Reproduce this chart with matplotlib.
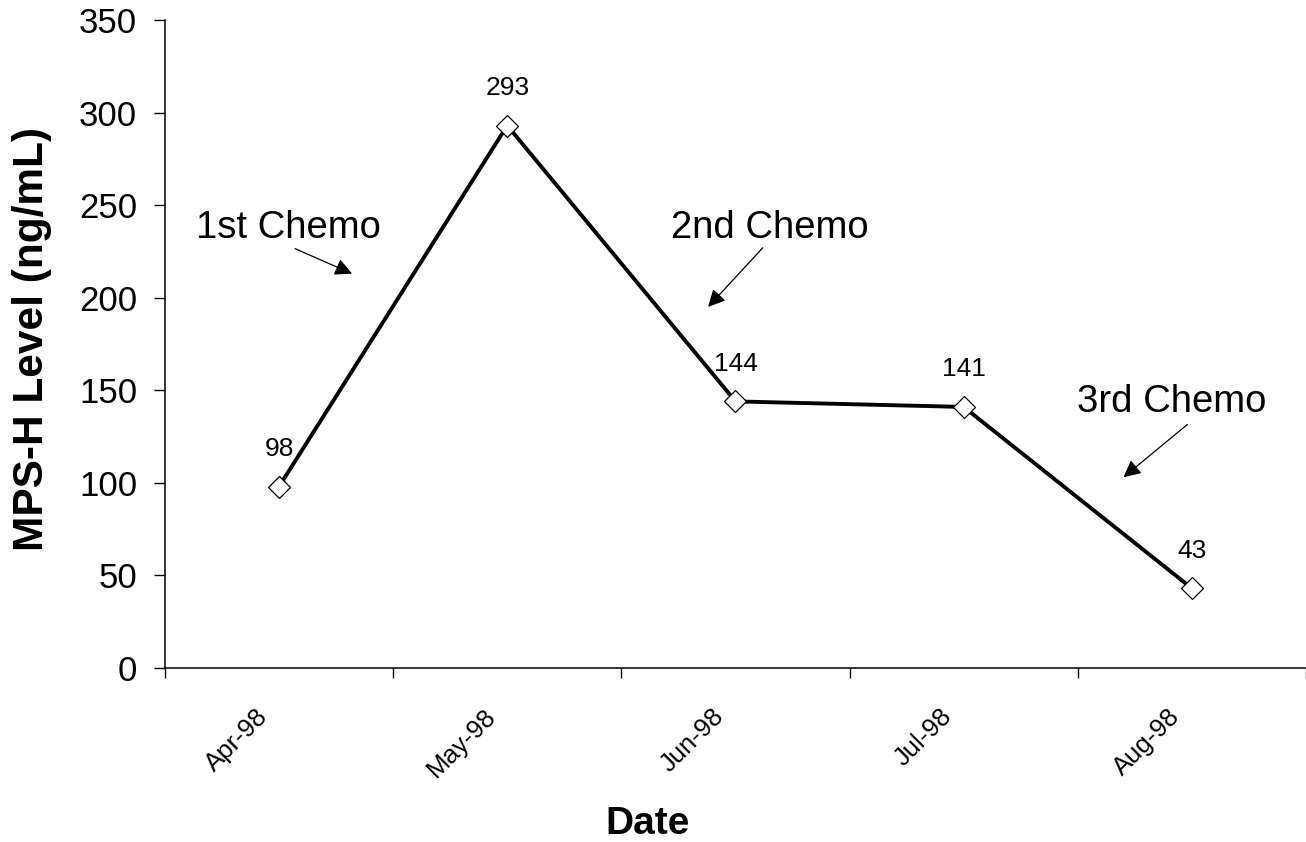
"""
MPS-H level over chemo cycles
"""

import matplotlib

matplotlib.use("Agg")
import matplotlib.pyplot as plt

plt.rcParams["font.family"] = ["Liberation Sans", "DejaVu Sans"]

# data
months = ["Apr-98", "May-98", "Jun-98", "Jul-98", "Aug-98"]
levels = [98, 293, 144, 141, 43]

# chemo notes: label, text position, arrow tail, arrow head (category idx, value)
chemo_labels = ["1st Chemo", "2nd Chemo", "3rd Chemo"]
chemo_text_xy = [(0.04, 237.5), (2.15, 237.5), (3.91, 143.5)]
chemo_tail_xy = [(0.07, 226.5), (2.12, 227.0), (3.98, 131.5)]
chemo_head_xy = [(0.32, 213.0), (1.88, 195.0), (3.70, 103.0)]

if __name__ == "__main__":
    fig = plt.figure(figsize=(13.06, 8.42), dpi=100)
    ax = fig.add_axes([0.1263, 0.2067, 0.8737, 0.7695])

    x = list(range(len(months)))
    ax.plot(
        x,
        levels,
        color="black",
        linewidth=2.8,
        marker="D",
        markersize=11.5,
        markerfacecolor="white",
        markeredgecolor="black",
        markeredgewidth=0.9,
    )

    # value labels above each point
    for xi, v in zip(x, levels):
        ax.annotate(
            str(v),
            (xi, v),
            xytext=(0, 27),
            textcoords="offset points",
            ha="center",
            va="center",
            fontsize=19,
        )

    # chemo annotations with arrows
    for lab, txy, tail, head in zip(
        chemo_labels, chemo_text_xy, chemo_tail_xy, chemo_head_xy
    ):
        ax.text(txy[0], txy[1], lab, ha="center", va="center", fontsize=27.5)
        ax.annotate(
            "",
            xy=head,
            xytext=tail,
            arrowprops=dict(
                arrowstyle="-|>",
                color="black",
                lw=0.9,
                mutation_scale=26,
                shrinkA=0,
                shrinkB=0,
            ),
        )

    ax.set_xlim(-0.5, len(months) - 0.5)
    ax.set_ylim(0, 350)
    ax.set_yticks(range(0, 351, 50))

    # category axis: ticks between categories, labels at centers
    ax.set_xticks([i + 0.5 for i in range(-1, len(months))])
    ax.set_xticklabels([])
    for xi, m in zip(x, months):
        ax.annotate(
            m,
            (xi, 0),
            xycoords=("data", "axes fraction"),
            xytext=(-11, -32),
            textcoords="offset points",
            rotation=45,
            ha="right",
            va="center",
            rotation_mode="anchor",
            fontsize=18.5,
        )
    ax.tick_params(axis="x", direction="out", length=7, width=1)
    ax.tick_params(axis="y", direction="out", length=8, width=1, pad=12,
                   labelsize=25)

    for s in ["top", "right"]:
        ax.spines[s].set_visible(False)
    for s in ["left", "bottom"]:
        ax.spines[s].set_linewidth(1.1)

    ax.set_ylabel("MPS-H Level (ng/mL)", fontsize=30.5, fontweight="bold")
    ax.yaxis.set_label_coords(-0.099, 0.508)
    ax.set_xlabel("Date", fontsize=28, fontweight="bold")
    ax.xaxis.set_label_coords(0.423, -0.213)

    fig.savefig("out.png", dpi=100)
